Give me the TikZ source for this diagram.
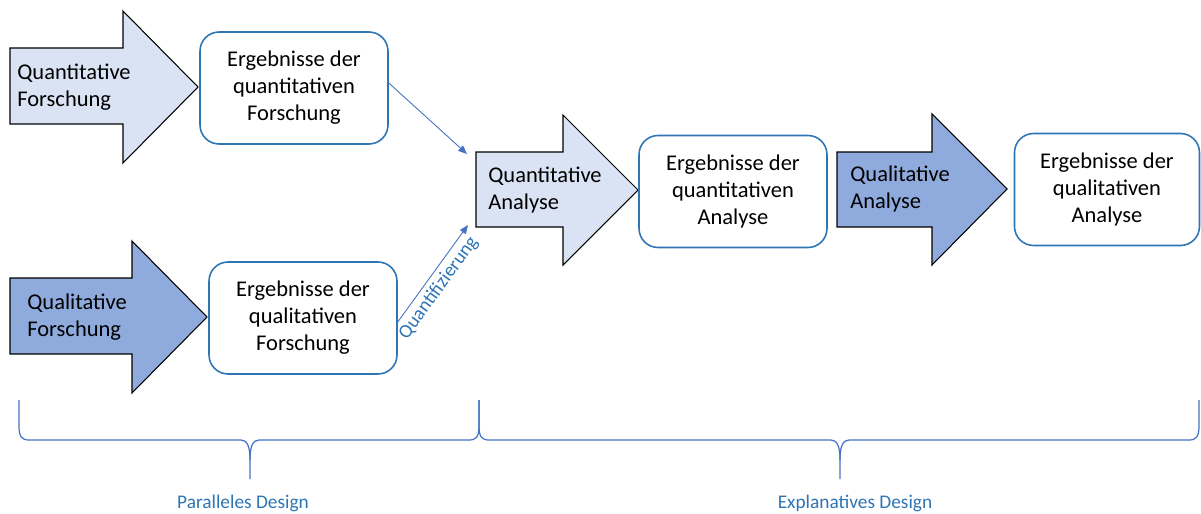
\documentclass[tikz,border=0pt]{standalone}
\usepackage{fontspec}
\setmainfont{Carlito}
\usetikzlibrary{arrows.meta}
\definecolor{lightfill}{HTML}{DAE3F3}
\definecolor{darkfill}{HTML}{8FAADC}
\definecolor{boxblue}{HTML}{2E75B6}
\definecolor{linkblue}{HTML}{4472C4}
\definecolor{labelblue}{HTML}{2E75B6}
\begin{document}
\begin{tikzpicture}[x=0.02cm,y=-0.02cm,
  bigarrow/.style={draw=black,line width=0.6pt,line join=miter},
  arrowtext/.style={anchor=west,align=left,inner sep=0pt,font=\fontsize{12.8pt}{15.4pt}\selectfont},
  resultbox/.style={draw=boxblue,line width=0.9pt,rounded corners=0.38cm,fill=white,align=center,
    font=\fontsize{12.8pt}{15.4pt}\selectfont,minimum width=3.76cm,minimum height=2.24cm,inner sep=0pt},
  link/.style={draw=linkblue,line width=0.5pt,-{Triangle[length=5pt,width=4pt]}},
  brace/.style={draw=linkblue,line width=0.7pt},
  bracelabel/.style={text=labelblue,font=\fontsize{11pt}{13pt}\selectfont}]
\useasboundingbox (0,0) rectangle (1201,514);

% big arrows
\draw[bigarrow,fill=lightfill] (10,48) -- (123,48) -- (123,11) -- (198,87) -- (123,163) -- (123,124) -- (10,124) -- cycle;
\draw[bigarrow,fill=darkfill] (10,278) -- (132,278) -- (132,241) -- (207,317) -- (132,393) -- (132,354) -- (10,354) -- cycle;
\draw[bigarrow,fill=lightfill] (476,152) -- (563,152) -- (563,115) -- (638,190) -- (563,265) -- (563,227) -- (476,227) -- cycle;
\draw[bigarrow,fill=darkfill] (837,152) -- (932,152) -- (932,114) -- (1007,189) -- (932,265) -- (932,227) -- (837,227) -- cycle;

\node[arrowtext] (t1) at (17,87) {Quantitative\\Forschung};
\node[arrowtext] (t2) at (27,317) {Qualitative\\Forschung};
\node[arrowtext] (t3) at (488,190) {Quantitative\\Analyse};
\node[arrowtext] (t4) at (850,189) {Qualitative\\Analyse};

% result boxes
\node[resultbox] (b1) at (294,88) {Ergebnisse der\\quantitativen\\Forschung};
\node[resultbox] (b2) at (303,318) {Ergebnisse der\\qualitativen\\Forschung};
\node[resultbox] (b3) at (733,191.5) {Ergebnisse der\\quantitativen\\Analyse};
\node[resultbox,minimum width=3.7cm] (b4) at (1107,189.5) {Ergebnisse der\\qualitativen\\Analyse};

% connectors
\coordinate (in1) at (467,154);
\coordinate (in2) at (468,225);
\draw[link] ([yshift=0.1cm]b1.east) -- (in1);
\draw[link] ([yshift=-0.08cm]b2.east) -- node[pos=0.43,sloped,below=1.5pt,bracelabel,inner sep=1pt] (qz) {Quantifizierung} (in2);

% braces
\draw[brace] (19,400) -- (19,426) .. controls (19,437) and (22,440) .. (29,440) -- (241,440)
  .. controls (247,440) and (250,446) .. (250,460) -- (250,479);
\draw[brace] (250,460) .. controls (250,446) and (253,440) .. (259,440) -- (469,440)
  .. controls (476,440) and (479,437) .. (479,426) -- (479,400);
\draw[brace] (479,400) -- (479,426) .. controls (479,437) and (482,440) .. (489,440) -- (831,440)
  .. controls (837,440) and (840,446) .. (840,460) -- (840,479);
\draw[brace] (840,460) .. controls (840,446) and (843,440) .. (849,440) -- (1189,440)
  .. controls (1196,440) and (1199,437) .. (1199,426) -- (1199,400);

\node[bracelabel] (pd) at (243,503) {Paralleles Design};
\node[bracelabel] (ed) at (855,503) {Explanatives Design};
\end{tikzpicture}
\end{document}
